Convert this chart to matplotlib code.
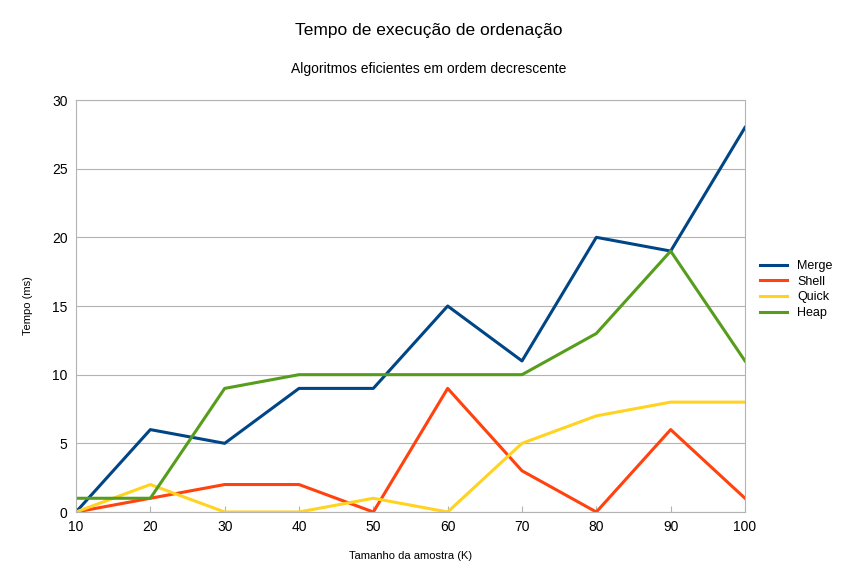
import numpy as np
import matplotlib
matplotlib.use('Agg')
import matplotlib.pyplot as plt

plt.rcParams['font.family'] = ['Liberation Sans', 'DejaVu Sans']

sizes = [10, 20, 30, 40, 50, 60, 70, 80, 90, 100]
merge = [0, 6, 5, 9, 9, 15, 11, 20, 19, 28]
shell = [0, 1, 2, 2, 0, 9, 3, 0, 6, 1]
quick = [0, 2, 0, 0, 1, 0, 5, 7, 8, 8]
heap = [1, 1, 9, 10, 10, 10, 10, 13, 19, 11]

series = [('Merge', merge, '#004586'), ('Shell', shell, '#ff420e'),
          ('Quick', quick, '#ffd320'), ('Heap', heap, '#579d1c')]

fig = plt.figure(figsize=(8.58, 5.83), dpi=100)
ax = fig.add_axes([76/858, 1-512/583, (745-76)/858, (512-100)/583])

for name, vals, color in series:
    ax.plot(sizes, vals, color=color, linewidth=2.2, label=name)

ax.set_xlim(10, 100)
ax.set_ylim(0, 30)
ax.set_xticks(sizes)
ax.set_yticks(range(0, 31, 5))
ax.grid(axis='y', color='#b3b3b3', linewidth=0.8)
ax.set_axisbelow(True)
for s in ax.spines.values():
    s.set_color('#b3b3b3')
ax.tick_params(length=0, labelsize=10, pad=6)
ax.tick_params(axis='x', length=4, color='#b3b3b3', direction='in')

ax.set_xlabel('Tamanho da amostra (K)', fontsize=8, labelpad=12)
ax.set_ylabel('Tempo (ms)', fontsize=8, labelpad=14)

fig.text(0.5, 1-30/583, 'Tempo de execução de ordenação', ha='center', va='center', fontsize=12.5)
fig.text(0.5, 1-69/583, 'Algoritmos eficientes em ordem decrescente', ha='center', va='center', fontsize=10)

ax.legend(loc='center left', bbox_to_anchor=(1.005, 0.54), frameon=False,
          fontsize=9, handlelength=2.2, labelspacing=0.3)

fig.savefig('out.png', dpi=100)
